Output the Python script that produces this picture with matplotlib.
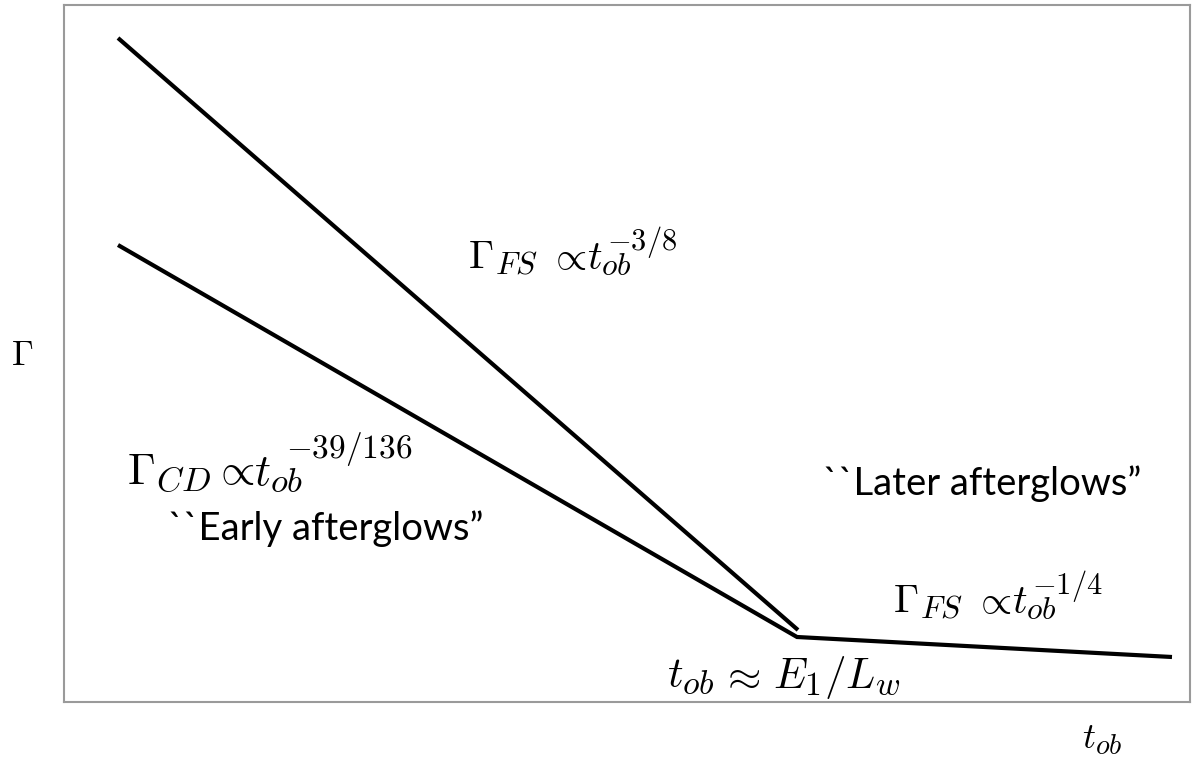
import matplotlib
matplotlib.use("Agg")
import matplotlib.pyplot as plt

plt.rcParams['mathtext.fontset'] = 'cm'
# LaTeX scripts (cmr7/cmmi7) are relatively larger than matplotlib's default 0.7 shrink
try:
    import matplotlib._mathtext as _mt
    _mt.SHRINK_FACTOR = 0.78
except Exception:
    pass

# Schematic data (arbitrary units, linear axes)
t_fs_early = [54, 734]
g_fs_early = [664, 72]
t_cd = [54, 733]
g_cd = [457, 65]
t_fs_late = [733, 1108]
g_fs_late = [65, 45]

# Annotation texts (base, relation, variable, exponent)
lab_fs_early = (r'$\Gamma_{FS}$', r'$\propto$', r'$t_{ob}$', r'$-3/8$')
lab_cd = (r'$\Gamma_{CD}$', r'$\propto$', r'$t_{ob}$', r'$-39/136$')
lab_fs_late = (r'$\Gamma_{FS}$', r'$\propto$', r'$t_{ob}$', r'$-1/4$')
lab_break = (r'$t_{ob}$', r'$\approx$', r'$E_1/L_w$')
txt_early = '``Early afterglows\u201d'
txt_later = '``Later afterglows\u201d'

W, H = 1192, 761
fig = plt.figure(figsize=(W / 100, H / 100), dpi=100)
L, T, R, B = 64, 5, 1190, 702
ax = fig.add_axes([L / W, 1 - B / H, (R - L) / W, (B - T) / H])
ax.set_xlim(0, R - L)
ax.set_ylim(0, B - T)
ax.set_xticks([])
ax.set_yticks([])
for s in ax.spines.values():
    s.set_color('#9a9a9a')
    s.set_linewidth(1.5)

lw = 3.0
ax.plot(t_fs_early, g_fs_early, color='black', lw=lw, solid_capstyle='butt')
ax.plot(t_cd + t_fs_late[1:], g_cd + g_fs_late[1:], color='black', lw=lw,
        solid_capstyle='butt', solid_joinstyle='miter')


def put(s, px, py, size, ha='left', **kw):
    """place text at pixel px (left edge or centre) with baseline at pixel py"""
    ax.text(px - L, B - py, s, fontsize=size, ha=ha, va='baseline', **kw)


def power_label(parts, x0, y0, rel_c, t_dx, sup_dx, sup_dy, size, sup_size):
    put(parts[0], x0, y0, size)
    put(parts[1], x0 + rel_c, y0, size, ha='center')
    put(parts[2], x0 + t_dx, y0, size)
    put(parts[3], x0 + sup_dx, y0 - sup_dy, sup_size)


power_label(lab_fs_early, 468, 269, 99, 119, 139, 19, 29, 22)
power_label(lab_cd, 127, 484, 107, 127, 159, 26, 32, 24)
power_label(lab_fs_late, 893, 613, 99, 119, 139, 19, 29, 22)

put(lab_break[0], 667, 688, 31)
put(lab_break[1], 740, 688, 31, ha='center')
put(lab_break[2], 773, 688, 31)

sans = ['Lato', 'DejaVu Sans']
put(txt_early, 168, 540, 27.5, family=sans)
put(txt_later, 823, 495, 27.5, family=sans)

fig.text(22 / W, 1 - 355 / H, r'$\Gamma$', fontsize=25, ha='center', va='center')
fig.text(1102 / W, 1 - 740 / H, r'$t_{ob}$', fontsize=26, ha='center', va='center')

fig.savefig('out.png', dpi=100, facecolor='white')
